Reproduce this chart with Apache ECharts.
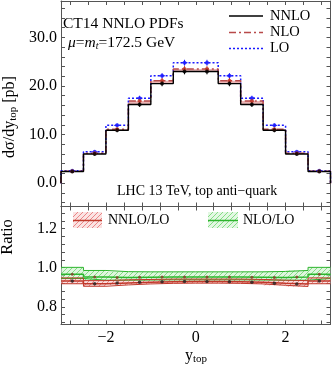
<!DOCTYPE html>
<html>
<head>
<meta charset="utf-8">
<script src="https://cdn.jsdelivr.net/npm/echarts@6/dist/echarts.min.js"></script>
<style>
  html, body { margin: 0; padding: 0; background: #fff; }
  #chart { width: 332px; height: 371px; }
</style>
</head>
<body>
<div id="chart"></div>
<script>
// bin edges in y_top
const edges = [-3, -2.5, -2, -1.5, -1, -0.5, 0, 0.5, 1, 1.5, 2, 2.5, 3];
// dsigma/dy [pb]
const nnlo = [2.4, 6.0, 10.9, 16.2, 20.5, 23.0, 23.0, 20.5, 16.2, 10.9, 6.0, 2.4];
const nlo = [2.45, 6.15, 11.1, 16.9, 21.1, 23.5, 23.5, 21.1, 16.9, 11.1, 6.15, 2.45];
const lo = [2.55, 6.45, 11.9, 17.5, 22.1, 24.8, 24.8, 22.1, 17.5, 11.9, 6.45, 2.55];
const nnloErr = [0.15, 0.3, 0.4, 0.5, 0.55, 0.6, 0.6, 0.55, 0.5, 0.4, 0.3, 0.15];
const nloErr = [0.15, 0.3, 0.4, 0.5, 0.55, 0.6, 0.6, 0.55, 0.5, 0.4, 0.3, 0.15];
const loErr = [0.15, 0.3, 0.4, 0.5, 0.55, 0.6, 0.6, 0.55, 0.5, 0.4, 0.3, 0.15];
// ratios
const nnloRatio = [0.932, 0.918, 0.922, 0.926, 0.928, 0.930, 0.930, 0.928, 0.926, 0.920, 0.917, 0.932];
const nnloRatioLo = [0.918, 0.905, 0.912, 0.917, 0.920, 0.921, 0.921, 0.920, 0.917, 0.910, 0.904, 0.918];
const nnloRatioHi = [0.948, 0.934, 0.938, 0.940, 0.942, 0.942, 0.942, 0.942, 0.940, 0.936, 0.934, 0.948];
const nloRatio = [0.966, 0.952, 0.950, 0.951, 0.952, 0.952, 0.952, 0.952, 0.951, 0.950, 0.952, 0.966];
const nloRatioLo = [0.945, 0.936, 0.936, 0.937, 0.938, 0.938, 0.938, 0.938, 0.937, 0.936, 0.936, 0.945];
const nloRatioHi = [1.002, 0.986, 0.980, 0.979, 0.979, 0.979, 0.979, 0.979, 0.979, 0.981, 0.986, 1.002];
// ticks
const xTicks = [-2.8, -2.4, -2, -1.6, -1.2, -0.8, -0.4, 0, 0.4, 0.8, 1.2, 1.6, 2, 2.4, 2.8];
const xLabels = [-2, 0, 2];
const yTopTicks = [-4, -2, 0, 2, 4, 6, 8, 10, 12, 14, 16, 18, 20, 22, 24, 26, 28, 30, 32, 34, 36];
const yTopLabels = [0, 10, 20, 30];
const yRatioTicks = [0.72, 0.76, 0.8, 0.84, 0.88, 0.92, 0.96, 1.0, 1.04, 1.08, 1.12, 1.16, 1.2, 1.24, 1.28];
const yRatioLabels = [0.8, 1.0, 1.2];

const FONT = "'Liberation Serif', 'DejaVu Serif', serif";
const frameColor = "#555";
const red = "#c0392b";
const nloRed = "#b84a4a";
const blue = "#1a1aff";
const green = "#2db52d";

const centers = edges.slice(0, -1).map((e, i) => (e + edges[i + 1]) / 2);

function stepPts(vals, toZero) {
  const p = toZero ? [[edges[0], 0]] : [];
  vals.forEach((v, i) => { p.push([edges[i], v], [edges[i + 1], v]); });
  if (toZero) p.push([edges[edges.length - 1], 0]);
  return p;
}
function binItems(a, b) {
  return a.map((v, i) => [edges[i], edges[i + 1], v, b[i]]);
}
function hatch(color) {
  const c = document.createElement("canvas");
  c.width = 5; c.height = 5;
  const g = c.getContext("2d");
  g.strokeStyle = color; g.lineWidth = 0.8;
  g.beginPath();
  g.moveTo(-1, 6); g.lineTo(6, -1);
  g.moveTo(-1, 1); g.lineTo(1, -1);
  g.moveTo(4, 6); g.lineTo(6, 4);
  g.stroke();
  return c;
}
const redHatch = hatch("rgba(220,60,60,0.7)");
const greenHatch = hatch("rgba(60,200,60,0.7)");

function bandRender(fillColor, pat) {
  return function (params, api) {
    const a = api.coord([api.value(0), api.value(3)]);
    const b = api.coord([api.value(1), api.value(2)]);
    const shape = echarts.graphic.clipRectByRect(
      { x: a[0], y: a[1], width: b[0] - a[0], height: b[1] - a[1] },
      params.coordSys
    );
    if (!shape) return;
    const ch = [{ type: "rect", shape: shape, style: { fill: fillColor } }];
    if (pat) ch.push({ type: "rect", shape: shape, style: { fill: { image: pat, repeat: "repeat" } } });
    return { type: "group", children: ch };
  };
}
function errRender(color, cap) {
  return function (params, api) {
    const x = api.value(0), v = api.value(1), e = api.value(2);
    const t = api.coord([x, v + e]);
    const b = api.coord([x, v - e]);
    const m = api.coord([x, v]);
    const st = { stroke: color, lineWidth: 1 };
    const ch = [{ type: "line", shape: { x1: t[0], y1: t[1], x2: b[0], y2: b[1] }, style: st }];
    if (cap) ch.push({ type: "line", shape: { x1: m[0] - cap, y1: m[1], x2: m[0] + cap, y2: m[1] }, style: st });
    return { type: "group", children: ch };
  };
}

function xAx(grid, pos, labels) {
  return {
    type: "value", gridIndex: grid, position: pos, min: -3, max: 3,
    axisLine: { show: true, onZero: false, lineStyle: { color: frameColor, width: 1 } },
    axisTick: { show: true, inside: true, length: 4, customValues: xTicks, lineStyle: { color: frameColor } },
    axisLabel: {
      show: labels, customValues: xLabels, margin: 5, color: "#000",
      fontFamily: FONT, fontSize: 16,
      formatter: (v) => (v < 0 ? "\u2212" + Math.abs(v) : String(v))
    },
    splitLine: { show: false }
  };
}
function yAx(grid, pos, min, max, ticks, labels, showLabels) {
  return {
    type: "value", gridIndex: grid, position: pos, min: min, max: max,
    axisLine: { show: true, onZero: false, lineStyle: { color: frameColor, width: 1 } },
    axisTick: { show: true, inside: true, length: 4, customValues: ticks, lineStyle: { color: frameColor } },
    axisLabel: {
      show: showLabels, customValues: labels, margin: 4, color: "#000",
      fontFamily: FONT, fontSize: 16,
      formatter: (v) => v.toFixed(1)
    },
    splitLine: { show: false }
  };
}

function stepLine(name, data, color, type, width, xi, yi) {
  return {
    name: name, type: "line", xAxisIndex: xi, yAxisIndex: yi, data: data,
    showSymbol: false, symbol: "none", animation: false,
    lineStyle: { color: color, width: width, type: type }, z: 5
  };
}
function errSeries(vals, errs, color, cap) {
  return {
    type: "custom", xAxisIndex: 0, yAxisIndex: 0, renderItem: errRender(color, cap),
    data: centers.map((c, i) => [c, vals[i], errs[i]]),
    encode: { x: 0, y: 1 }, z: 6, animation: false
  };
}
function dots(vals, color, size, xi, yi) {
  return {
    type: "scatter", xAxisIndex: xi, yAxisIndex: yi, symbol: "circle", symbolSize: size,
    itemStyle: { color: color }, data: centers.map((c, i) => [c, vals[i]]), z: 7, animation: false
  };
}
function band(lo, hi, fill, pat, xi, yi) {
  return {
    type: "custom", xAxisIndex: xi, yAxisIndex: yi, renderItem: bandRender(fill, pat),
    data: binItems(lo, hi), encode: { x: [0, 1], y: [2, 3] }, z: 2, animation: false, clip: true
  };
}

const chart = echarts.init(document.getElementById("chart"), null, { renderer: "canvas" });

const option = {
  backgroundColor: "#fff",
  animation: false,
  grid: [
    { left: 61, top: 1, width: 269.5, height: 205.5, show: false },
    { left: 61, top: 206.5, width: 269.5, height: 118, show: false }
  ],
  xAxis: [xAx(0, "bottom", false), xAx(0, "top", false), xAx(1, "bottom", true), xAx(1, "top", false)],
  yAxis: [
    yAx(0, "left", -4.8, 37.5, yTopTicks, yTopLabels, true),
    yAx(0, "right", -4.8, 37.5, yTopTicks, yTopLabels, false),
    yAx(1, "left", 0.709, 1.314, yRatioTicks, yRatioLabels, true),
    yAx(1, "right", 0.709, 1.314, yRatioTicks, yRatioLabels, false)
  ],
  series: [
    band(nnlo, nlo, "rgba(205,70,70,0.4)", null, 0, 0),
    stepLine("LO", stepPts(lo, true), blue, [2, 2], 1.5, 0, 0),
    stepLine("NLO", stepPts(nlo, true), nloRed, [7, 3, 2, 3], 1.5, 0, 0),
    stepLine("NNLO", stepPts(nnlo, true), "#000", "solid", 1.4, 0, 0),
    errSeries(lo, loErr, blue, 3),
    errSeries(nlo, nloErr, red, 2),
    errSeries(nnlo, nnloErr, "#000", 0),
    dots(lo, blue, 4, 0, 0),
    dots(nlo, red, 4, 0, 0),
    dots(nnlo, "#000", 4, 0, 0),

    band(nloRatioLo, nloRatioHi, "rgba(200,240,200,0.6)", greenHatch, 2, 2),
    band(nnloRatioLo, nnloRatioHi, "rgba(245,200,200,0.6)", redHatch, 2, 2),
    stepLine("NLO/LO hi", stepPts(nloRatioHi, false), green, "solid", 1, 2, 2),
    stepLine("NLO/LO lo", stepPts(nloRatioLo, false), green, "solid", 1, 2, 2),
    stepLine("NNLO/LO hi", stepPts(nnloRatioHi, false), red, "solid", 1, 2, 2),
    stepLine("NNLO/LO lo", stepPts(nnloRatioLo, false), red, "solid", 1, 2, 2),
    stepLine("NLO/LO", stepPts(nloRatio, false), green, "solid", 1.5, 2, 2),
    stepLine("NNLO/LO", stepPts(nnloRatio, false), red, "solid", 1.5, 2, 2),
    dots(nloRatio, "#8b3a2a", 3, 2, 2),
    dots(nnloRatio, "#222", 3.5, 2, 2)
  ],
  graphic: [
    { type: "text", x: 63, y: 24, style: { text: "CT14 NNLO PDFs", font: "15.5px " + FONT, fill: "#000", verticalAlign: "middle" } },
    {
      type: "text", x: 68, y: 43,
      style: {
        text: "{i|\u03bc}{n|=}{i|m}{s|t}{n|=172.5 GeV}", verticalAlign: "middle", fill: "#000",
        rich: {
          i: { fontFamily: FONT, fontSize: 15.5, fontStyle: "italic", lineHeight: 17 },
          n: { fontFamily: FONT, fontSize: 15.5, lineHeight: 17 },
          s: { fontFamily: FONT, fontSize: 10, fontStyle: "italic", verticalAlign: "bottom", lineHeight: 13 }
        }
      }
    },
    { type: "text", x: 117, y: 191, style: { text: "LHC 13 TeV, top anti\u2212quark", font: "14px " + FONT, fill: "#000", verticalAlign: "middle" } },

    { type: "line", shape: { x1: 229, y1: 16, x2: 263, y2: 16 }, style: { stroke: "#000", lineWidth: 1.5 } },
    { type: "line", shape: { x1: 229, y1: 32.5, x2: 263, y2: 32.5 }, style: { stroke: nloRed, lineWidth: 1.5, lineDash: [7, 3, 2, 3] } },
    { type: "line", shape: { x1: 229, y1: 48.5, x2: 263, y2: 48.5 }, style: { stroke: blue, lineWidth: 1.5, lineDash: [2, 2] } },
    { type: "text", x: 270, y: 16, style: { text: "NNLO", font: "14.5px " + FONT, fill: "#000", verticalAlign: "middle" } },
    { type: "text", x: 270, y: 32.5, style: { text: "NLO", font: "14.5px " + FONT, fill: "#000", verticalAlign: "middle" } },
    { type: "text", x: 270, y: 48.5, style: { text: "LO", font: "14.5px " + FONT, fill: "#000", verticalAlign: "middle" } },

    { type: "rect", shape: { x: 73, y: 212, width: 29, height: 16 }, style: { fill: "rgba(250,215,215,0.7)" } },
    { type: "rect", shape: { x: 73, y: 212, width: 29, height: 16 }, style: { fill: { image: redHatch, repeat: "repeat" } } },
    { type: "line", shape: { x1: 73, y1: 220.5, x2: 102, y2: 220.5 }, style: { stroke: red, lineWidth: 1.5 } },
    { type: "text", x: 108, y: 220.5, style: { text: "NNLO/LO", font: "14px " + FONT, fill: "#000", verticalAlign: "middle" } },
    { type: "rect", shape: { x: 208, y: 212, width: 30, height: 16 }, style: { fill: "rgba(215,245,215,0.7)" } },
    { type: "rect", shape: { x: 208, y: 212, width: 30, height: 16 }, style: { fill: { image: greenHatch, repeat: "repeat" } } },
    { type: "line", shape: { x1: 208, y1: 220.5, x2: 238, y2: 220.5 }, style: { stroke: green, lineWidth: 1.5 } },
    { type: "text", x: 243, y: 220.5, style: { text: "NLO/LO", font: "14px " + FONT, fill: "#000", verticalAlign: "middle" } },

    {
      type: "text", x: 10, y: 117, rotation: Math.PI / 2,
      style: {
        text: "{a|d\u03c3/dy}{s|top}{a| [pb]}", align: "center", verticalAlign: "middle", fill: "#000",
        rich: {
          a: { fontFamily: FONT, fontSize: 16, lineHeight: 18 },
          s: { fontFamily: FONT, fontSize: 11, verticalAlign: "bottom", lineHeight: 13 }
        }
      }
    },
    { type: "text", x: 8, y: 237, rotation: Math.PI / 2, style: { text: "Ratio", font: "16.5px " + FONT, fill: "#000", align: "center", verticalAlign: "middle" } },
    {
      type: "text", x: 196, y: 356,
      style: {
        text: "{a|y}{s|top}", align: "center", verticalAlign: "middle", fill: "#000",
        rich: {
          a: { fontFamily: FONT, fontSize: 16, lineHeight: 18 },
          s: { fontFamily: FONT, fontSize: 11, verticalAlign: "bottom", lineHeight: 13 }
        }
      }
    }
  ]
};

chart.setOption(option);
window.onresize = function () { chart.resize(); };
</script>
</body>
</html>
